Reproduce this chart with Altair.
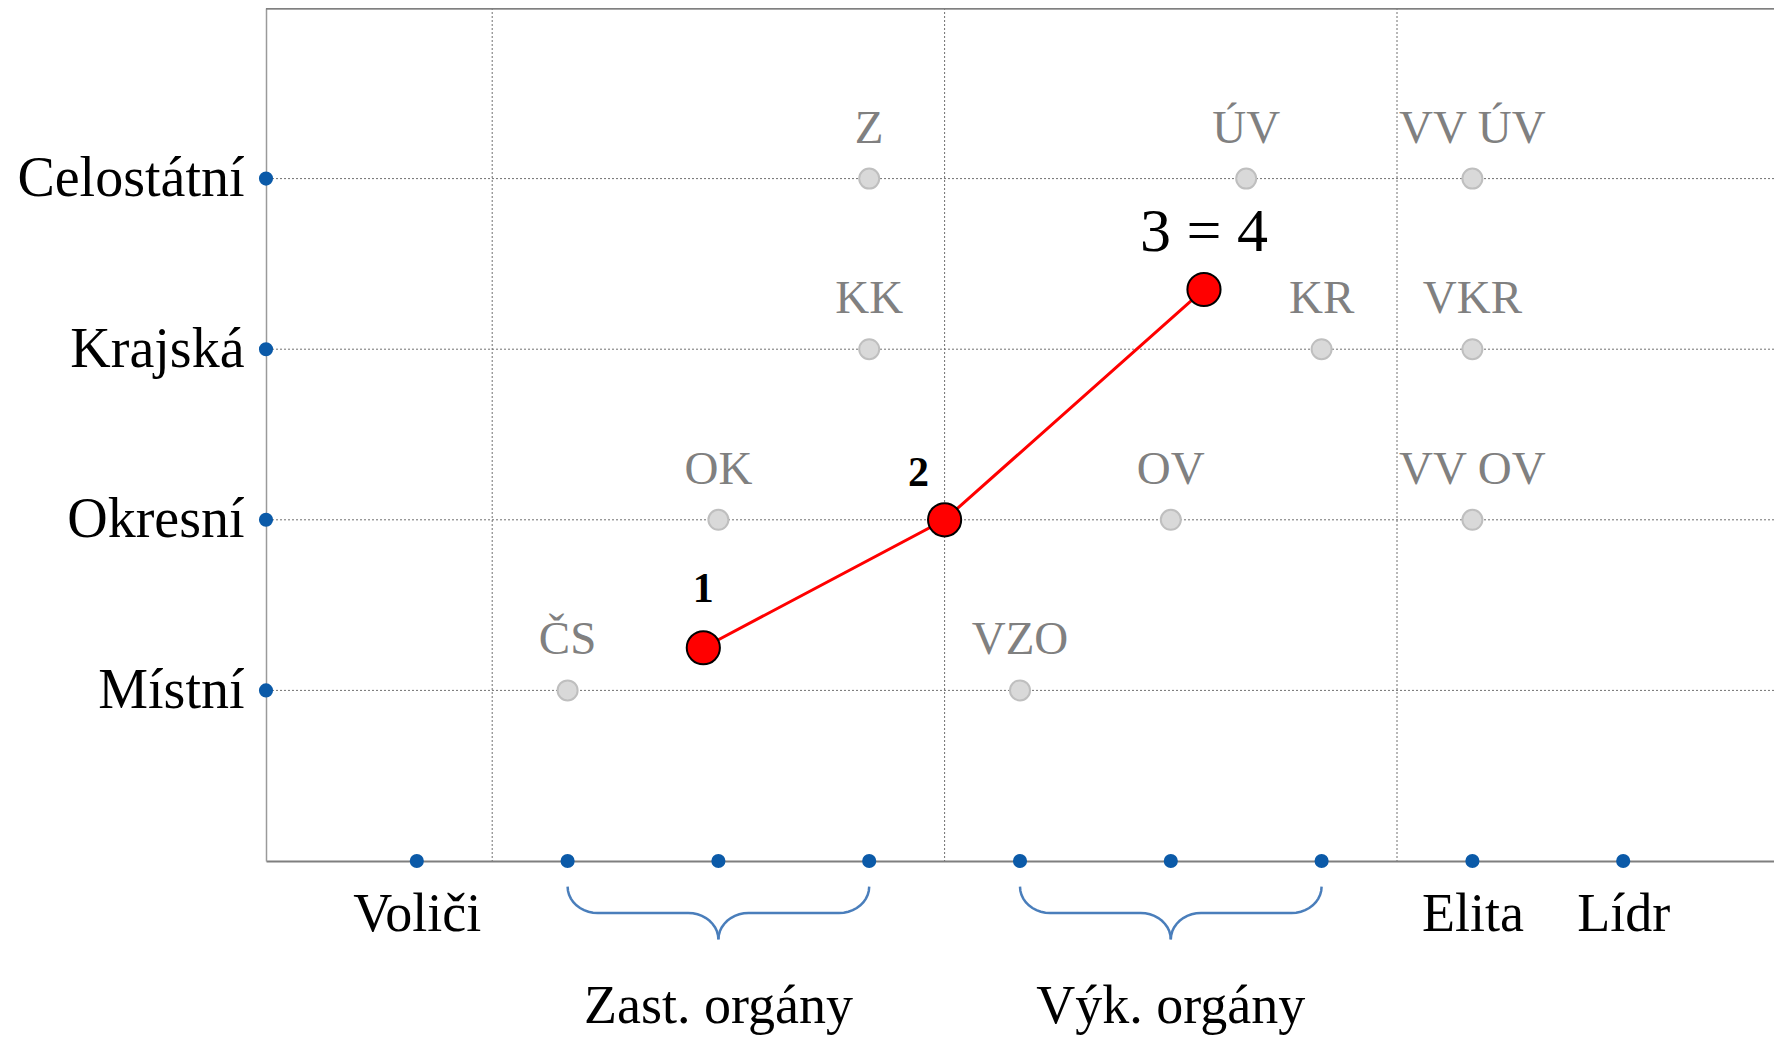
import math
import altair as alt
import pandas as pd

SERIF = "Liberation Serif"

# ---- data ----
levels = ["Místní", "Okresní", "Krajská", "Celostátní"]
level_vals = [1, 2, 3, 4]

bottom_labels = ["Voliči", "Elita", "Lídr"]
bottom_label_pos = [1, 8, 9]
axis_dot_x = [1, 2, 3, 4, 5, 6, 7, 8, 9]
sep_x = [1.5, 4.5, 7.5]

body_names = ["ČS", "OK", "KK", "Z", "VZO", "OV", "ÚV", "KR", "VV ÚV", "VKR", "VV OV"]
body_x = [2, 3, 4, 4, 5, 6, 6.5, 7, 8, 8, 8]
body_y = [1, 2, 3, 4, 1, 2, 4, 3, 4, 3, 2]

path_labels = ["1", "2", "3 = 4"]
path_x = [2.9, 4.5, 6.22]
path_y = [1.25, 2.0, 3.35]

group_names = ["Zast. orgány", "Výk. orgány"]
group_start = [2, 5]
group_end = [4, 7]

# ---- tables ----
bodies = pd.DataFrame({"name": body_names, "x": body_x, "y": body_y})
path = pd.DataFrame({"label": path_labels, "x": path_x, "y": path_y, "i": range(len(path_x))})
grid_h = pd.DataFrame({"y": level_vals})
grid_v = pd.DataFrame({"x": sep_x})
left_dots = pd.DataFrame({"x": [0] * len(level_vals), "y": level_vals})
bottom_dots = pd.DataFrame({"x": axis_dot_x, "y": [0] * len(axis_dot_x)})
groups = pd.DataFrame({"name": group_names,
                       "x": [(s + e) / 2 for s, e in zip(group_start, group_end)],
                       "y": [0] * len(group_names)})

# curly-brace outline built from each group's span (two quarter-ellipse corners per half)
TOP, MID, TIP = -0.15, -0.305, -0.46
RX = 0.2
rows = []
for g, (s, e) in enumerate(zip(group_start, group_end)):
    m = (s + e) / 2
    for side, sgn, end in (("L", 1, s), ("R", -1, e)):
        pts = []
        ry1 = TOP - MID
        for k in range(11):  # corner at the brace end
            a = math.pi / 2 * k / 10
            pts.append((end + sgn * RX * (1 - math.cos(a)), TOP - ry1 * math.sin(a)))
        ry2 = MID - TIP
        for k in range(11):  # corner into the tip
            a = math.pi / 2 * k / 10
            pts.append((m - sgn * RX * (1 - math.sin(a)), TIP + ry2 * math.cos(a)))
        for i, (px, py) in enumerate(pts):
            rows.append({"half": f"{g}{side}", "i": i, "x": px, "y": py})
braces = pd.DataFrame(rows)

# ---- scales / axes ----
xs = alt.Scale(domain=[0, 10], nice=False, zero=False)
ys = alt.Scale(domain=[0, 5], nice=False, zero=False)


def lbl_expr(vals, names):
    expr = "''"
    for v, n in reversed(list(zip(vals, names))):
        expr = f"datum.value == {v} ? '{n}' : ({expr})"
    return expr


xaxis = alt.Axis(values=bottom_label_pos, labelExpr=lbl_expr(bottom_label_pos, bottom_labels),
                 grid=False, ticks=False, tickSize=0, domainColor="#7f7f7f", domainWidth=2,
                 labelFont=SERIF, labelFontSize=54, labelColor="black", labelPadding=69,
                 labelBaseline="alphabetic", labelFlush=False, labelOverlap=False,
                 labelLimit=0, title=None)
yaxis = alt.Axis(values=level_vals, labelExpr=lbl_expr(level_vals, levels),
                 grid=False, ticks=False, tickSize=0, domainColor="#9a9a9a", domainWidth=1.5,
                 labelFont=SERIF, labelFontSize=56, labelColor="black", labelPadding=22,
                 labelBaseline="middle", labelAlign="right", labelFlush=False,
                 labelOverlap=False, labelLimit=0, title=None)


def X(f="x"):
    return alt.X(f"{f}:Q", scale=xs, axis=xaxis)


def Y(f="y"):
    return alt.Y(f"{f}:Q", scale=ys, axis=yaxis)


hgrid = alt.Chart(grid_h).mark_rule(color="#707070", strokeWidth=1, strokeDash=[2, 2]).encode(y=Y())
vgrid = alt.Chart(grid_v).mark_rule(color="#707070", strokeWidth=1, strokeDash=[2, 2]).encode(x=X())
top_border = alt.Chart(grid_h).mark_rule(color="#808080", strokeWidth=2.5).encode(
    y=alt.datum(5, scale=ys, axis=yaxis))

brace_lines = alt.Chart(braces).mark_line(color="#4a7ebb", strokeWidth=2.5).encode(
    x=X(), y=Y(), detail="half:N", order="i:Q")

gray_pts = alt.Chart(bodies).mark_point(filled=True, shape="circle", size=400, color="#d9d9d9",
                                        stroke="#bfbfbf", strokeWidth=2, opacity=1).encode(x=X(), y=Y())
gray_txt = alt.Chart(bodies).mark_text(font=SERIF, fontSize=47, color="#808080", baseline="alphabetic",
                                       dy=-36).encode(x=X(), y=Y(), text="name:N")

red_line = alt.Chart(path).mark_line(color="#ff0000", strokeWidth=3).encode(x=X(), y=Y(), order="i:Q")
red_pts = alt.Chart(path).mark_point(filled=True, shape="circle", size=1100, color="#ff0000",
                                     stroke="black", strokeWidth=2, opacity=1).encode(x=X(), y=Y())
lab1 = alt.Chart(path).transform_filter(alt.datum.label == path_labels[0]).mark_text(
    font=SERIF, fontSize=42, fontWeight="bold", color="black", baseline="alphabetic", dy=-46
).encode(x=X(), y=Y(), text="label:N")
lab2 = alt.Chart(path).transform_filter(alt.datum.label == path_labels[1]).mark_text(
    font=SERIF, fontSize=42, fontWeight="bold", color="black", baseline="alphabetic", dy=-34, dx=-26
).encode(x=X(), y=Y(), text="label:N")
lab3 = alt.Chart(path).transform_filter(alt.datum.label == path_labels[2]).mark_text(
    font=SERIF, fontSize=62, color="black", baseline="alphabetic", dy=-38
).encode(x=X(), y=Y(), text="label:N")

blue_left = alt.Chart(left_dots).mark_point(filled=True, shape="circle", size=200, color="#0b5aa8",
                                            opacity=1).encode(x=X(), y=Y())
blue_bottom = alt.Chart(bottom_dots).mark_point(filled=True, shape="circle", size=200, color="#0b5aa8",
                                                opacity=1).encode(x=X(), y=Y())

group_txt = alt.Chart(groups).mark_text(font=SERIF, fontSize=54, color="black", baseline="alphabetic",
                                        dy=162).encode(x=X(), y=Y(), text="name:N")

chart = alt.layer(
    hgrid, vgrid, top_border, brace_lines, gray_pts, gray_txt, red_line, red_pts,
    lab1, lab2, lab3, blue_left, blue_bottom, group_txt
).properties(
    width=1508, height=853,
    autosize=alt.AutoSizeParams(type="none"),
    padding={"left": 258, "top": 0, "right": 0, "bottom": 176},
    background="white",
).configure_view(stroke=None)

chart.save("out.html", embed_options={"renderer": "svg", "actions": False})
